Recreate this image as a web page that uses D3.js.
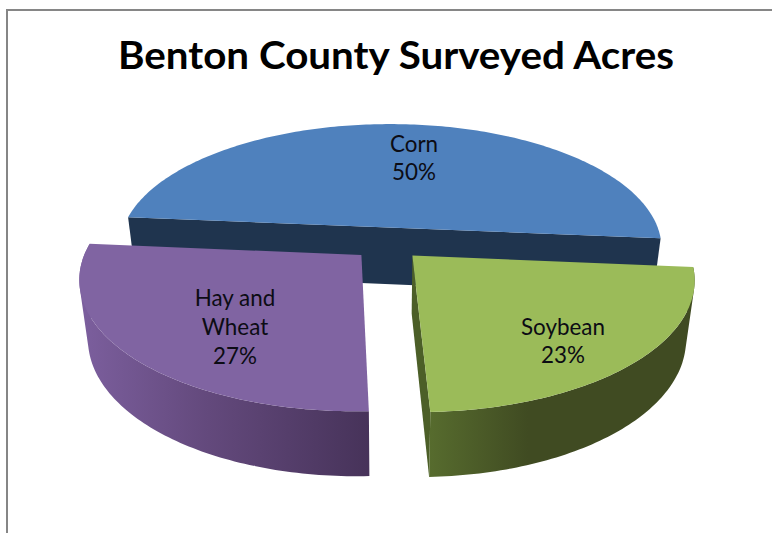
<!DOCTYPE html>
<html>
<head>
<meta charset="utf-8">
<title>Benton County Surveyed Acres</title>
<script src="https://cdn.jsdelivr.net/npm/d3@7/dist/d3.min.js"></script>
<style>
  html, body { margin: 0; padding: 0; background: #fff; }
  svg { display: block; }
  text { font-family: Lato, "Open Sans", sans-serif; fill: #0c0c14; }
</style>
</head>
<body>
<svg id="chart" width="772" height="533"></svg>
<script>
const chartTitle = "Benton County Surveyed Acres";
const categories = ["Corn", "Soybean", "Hay and Wheat"];
const shares = [50, 23, 27];
const labelLines = [["Corn"], ["Soybean"], ["Hay and", "Wheat"]];
const topColors = ["#4f81bd", "#9bbb59", "#8064a2"];

const width = 772, height = 533;
const svg = d3.select("#chart");

// Tilted-disc camera: disc coordinates have radius 1, with v growing toward the viewer.
const camera = { cx: 387.5, cy: 243.5, a: 273, b: 125.8, k: 0.168,
                 depth: 57.5, depthK: 0.105, baseShrink: 0.972 };
const explode = 0.13;
const firstAngle = 275 * Math.PI / 180;

function projectTop(u, v) {
  const s = 1 / (1 - camera.k * v);
  return [camera.cx + camera.a * u * s, camera.cy + camera.b * v * s];
}
function projectBase(u, v) {
  const [x, y] = projectTop(u, v);
  return [camera.cx + (x - camera.cx) * camera.baseShrink,
          y + camera.depth / (1 - camera.depthK * v)];
}

const pie = d3.pie().value(d => d).sort(null)
  .startAngle(firstAngle).endAngle(firstAngle + 2 * Math.PI);
const arcs = pie(shares);
const line = d3.line();

// Disc coordinates for one wedge: its exploded apex and its rim samples.
function wedge(arc) {
  const mid = (arc.startAngle + arc.endAngle) / 2;
  const ox = explode * Math.sin(mid), oy = -explode * Math.cos(mid);
  const steps = Math.ceil((arc.endAngle - arc.startAngle) / (Math.PI / 180));
  const rim = d3.range(steps + 1).map(i => {
    const t = arc.startAngle + (arc.endAngle - arc.startAngle) * i / steps;
    return [ox + Math.sin(t), oy - Math.cos(t)];
  });
  return { apex: [ox, oy], rim };
}
const polygon = (pts, proj) => line(pts.map(p => proj(p[0], p[1]))) + "Z";

const wedges = arcs.map(wedge);
const [corn, soy, hay] = wedges;

// Side shading runs left to right along the visible rim of each front slice.
const defs = svg.append("defs");
function sideGradient(id, x1, x2, stops) {
  const g = defs.append("linearGradient").attr("id", id)
    .attr("gradientUnits", "userSpaceOnUse")
    .attr("x1", x1).attr("x2", x2).attr("y1", 0).attr("y2", 0);
  stops.forEach(([o, c]) => g.append("stop").attr("offset", o).attr("stop-color", c));
}
sideGradient("haySide", 79, 367, [[0, "#7c5f9e"], [0.45, "#63497c"], [1, "#47335a"]]);
sideGradient("soySide", 428, 691, [[0, "#576c2e"], [0.38, "#404b22"], [1, "#404b22"]]);

// Frame around the chart area, open on the right and bottom edges.
svg.append("path")
  .attr("d", d3.line()([[7, height], [7, 10], [width, 10]]))
  .attr("fill", "none").attr("stroke", "#868686").attr("stroke-width", 2);

svg.append("text")
  .attr("x", 396).attr("y", 69)
  .attr("text-anchor", "middle")
  .attr("font-size", 38).attr("font-weight", 700)
  .attr("textLength", 556).attr("lengthAdjust", "spacingAndGlyphs")
  .style("fill", "#000")
  .text(chartTitle);

const marks = svg.append("g");

// Wall between top and base outlines, built from one quad per rim segment so the
// silhouette between the outlines is filled. Every quad is wound the same way,
// otherwise overlapping quads would cancel under the nonzero fill rule.
function wallPath(points) {
  return d3.pairs(points).map(([p, q]) => {
    const quad = [
      projectTop(p[0], p[1]), projectTop(q[0], q[1]),
      projectBase(q[0], q[1]), projectBase(p[0], p[1])
    ];
    if (d3.polygonArea(quad) < 0) quad.reverse();
    return line(quad) + "Z";
  }).join("");
}

// Corn: only the straight cut face shows below the top surface.
const cornChord = [corn.rim[0], corn.rim[corn.rim.length - 1]];
marks.append("path").attr("d", wallPath(cornChord)).attr("fill", "#1f344e");
marks.append("path").attr("d", polygon(corn.rim, projectTop)).attr("fill", topColors[0]);

// Hay and Wheat: outer wall, then top surface.
marks.append("path").attr("d", wallPath(hay.rim)).attr("fill", "url(#haySide)");
marks.append("path").attr("d", polygon([hay.apex, ...hay.rim], projectTop)).attr("fill", topColors[2]);

// Soybean: cut face toward the gap, outer wall, then top surface.
marks.append("path")
  .attr("d", wallPath([soy.apex, soy.rim[soy.rim.length - 1]]))
  .attr("fill", "#4c5f28");
marks.append("path").attr("d", wallPath(soy.rim)).attr("fill", "url(#soySide)");
marks.append("path").attr("d", polygon([soy.apex, ...soy.rim], projectTop)).attr("fill", topColors[1]);

// Category and percent labels, centred on each slice.
const labelCentres = [[414, 159], [563, 342], [235, 328]];
const lineGap = 28.7;
categories.forEach((name, i) => {
  const lines = [...labelLines[i], shares[i] + "%"];
  const [x, yc] = labelCentres[i];
  const t = svg.append("text")
    .attr("text-anchor", "middle")
    .attr("font-size", 22.4)
    .attr("aria-label", name);
  lines.forEach((s, j) => {
    t.append("tspan").attr("x", x)
      .attr("y", yc + (j - (lines.length - 1) / 2) * lineGap + 7)
      .text(s);
  });
});
</script>
</body>
</html>
